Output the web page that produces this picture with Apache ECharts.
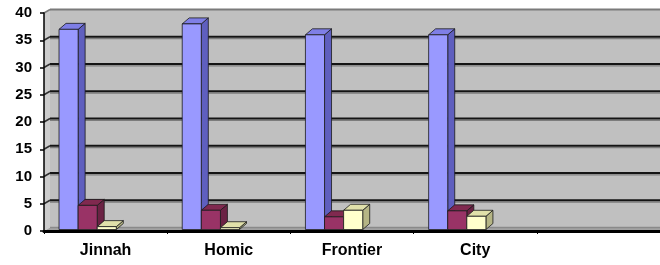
<!DOCTYPE html>
<html>
<head>
<meta charset="utf-8">
<script src="https://cdn.jsdelivr.net/npm/echarts@6/dist/echarts.min.js"></script>
<style>html,body{margin:0;padding:0;background:#fff}#c{width:660px;height:265px}</style>
</head>
<body>
<div id="c"></div>
<script>
var categories = ['Jinnah', 'Homic', 'Frontier', 'City', ''];
var seriesBlue = [37, 38, 36, 36];
var seriesMaroon = [4.7, 3.8, 2.6, 3.7];
var seriesYellow = [0.8, 0.6, 3.8, 2.7];
var yTicks = [0, 5, 10, 15, 20, 25, 30, 35, 40];

var palette = [
  {front: '#9999ff', top: '#7f7fe6', side: '#5f5fbf'},
  {front: '#993366', top: '#80294f', side: '#6b2244'},
  {front: '#ffffcc', top: '#e0e0aa', side: '#b5b585'}
];

var chart = echarts.init(document.getElementById('c'), null, {renderer: 'canvas'});

function wallRender(params, api) {
  var band = api.size([1, 0])[0];
  var c0 = api.coord([0, 0]);
  var L = c0[0] - band / 2;
  var R = L + band * categories.length;
  var y0 = c0[1];
  var yTop = api.coord([0, yTicks[yTicks.length - 1]])[1];
  var dx = 6, dy = -3.5;
  var kids = [];
  kids.push({type: 'rect', shape: {x: L + dx, y: yTop + dy, width: R - L - dx, height: y0 - yTop}, style: {fill: '#c0c0c0'}});
  kids.push({type: 'polygon', shape: {points: [[L, yTop], [L + dx, yTop + dy], [L + dx, y0 + dy], [L, y0]]}, style: {fill: '#cdcdcd'}});
  kids.push({type: 'polygon', shape: {points: [[L, y0], [L + dx, y0 + dy], [R, y0 + dy], [R, y0]]}, style: {fill: '#a2a2a2'}});
  kids.push({type: 'line', shape: {x1: L + dx, y1: yTop + dy, x2: R, y2: yTop + dy}, style: {stroke: '#7a7a7a', lineWidth: 2}});
  kids.push({type: 'line', shape: {x1: L, y1: yTop, x2: L + dx, y2: yTop + dy}, style: {stroke: '#7a7a7a', lineWidth: 1.5}});
  for (var i = 1; i < yTicks.length - 1; i++) {
    var y = api.coord([0, yTicks[i]])[1];
    kids.push({type: 'line', shape: {x1: L + dx, y1: y + dy + 1.8, x2: R, y2: y + dy + 1.8}, style: {stroke: '#7c7c7c', lineWidth: 1.2}});
    kids.push({type: 'line', shape: {x1: L + dx, y1: y + dy, x2: R, y2: y + dy}, style: {stroke: '#141414', lineWidth: 2}});
    kids.push({type: 'line', shape: {x1: L, y1: y, x2: L + dx, y2: y + dy}, style: {stroke: '#303030', lineWidth: 1.5}});
  }
  var yb = api.coord([0, 0])[1];
  kids.push({type: 'line', shape: {x1: L + dx, y1: yb + dy, x2: R, y2: yb + dy}, style: {stroke: '#8a8a8a', lineWidth: 1.5}});
  return {type: 'group', children: kids};
}

function barRender(si) {
  return function (params, api) {
    var cat = api.value(0), val = api.value(1);
    var top = api.coord([cat, val]);
    var base = api.coord([cat, 0]);
    var band = api.size([1, 0])[0];
    var w = band * 0.155;
    var l = top[0] - band * 0.378 + si * w;
    var r = l + w;
    var yt = top[1], yb = base[1] - 1.5;
    var dx = 7, dy = -6;
    var col = palette[si];
    var st = {stroke: '#1a1a1a', lineWidth: 0.8};
    return {type: 'group', children: [
      {type: 'polygon', shape: {points: [[r, yt], [r + dx, yt + dy], [r + dx, yb + dy], [r, yb]]}, style: Object.assign({fill: col.side}, st)},
      {type: 'polygon', shape: {points: [[l, yt], [l + dx, yt + dy], [r + dx, yt + dy], [r, yt]]}, style: Object.assign({fill: col.top}, st)},
      {type: 'rect', shape: {x: l, y: yt, width: w, height: yb - yt}, style: Object.assign({fill: col.front}, st)}
    ]};
  };
}

function toData(arr) { return arr.map(function (v, i) { return [i, v]; }); }

var option = {
  animation: false,
  grid: {left: 44, right: 0, top: 13, bottom: 34, containLabel: false},
  xAxis: {
    type: 'category', data: categories, z: 10,
    axisLine: {show: true, lineStyle: {color: '#000', width: 3}},
    axisTick: {show: true, length: 3, interval: 0, lineStyle: {color: '#000', width: 1}},
    axisLabel: {interval: 0, margin: 12, color: '#000', fontSize: 16, fontWeight: 'bold', fontFamily: 'Liberation Sans, Arial, sans-serif'},
    splitLine: {show: false}
  },
  yAxis: {
    type: 'value', min: 0, max: 40, interval: 5, z: 10,
    axisLine: {show: true, lineStyle: {color: '#000', width: 1.5}},
    axisTick: {show: true, length: 4, lineStyle: {color: '#000', width: 1.5}},
    axisLabel: {margin: 12, color: '#000', fontSize: 15, fontWeight: 'bold', fontFamily: 'Liberation Sans, Arial, sans-serif'},
    splitLine: {show: false}
  },
  series: [
    {type: 'custom', name: 'wall', z: 1, silent: true, renderItem: wallRender, data: [[0, 0]]},
    {type: 'custom', name: 'Series 1', z: 3, renderItem: barRender(0), data: toData(seriesBlue)},
    {type: 'custom', name: 'Series 2', z: 4, renderItem: barRender(1), data: toData(seriesMaroon)},
    {type: 'custom', name: 'Series 3', z: 5, renderItem: barRender(2), data: toData(seriesYellow)}
  ]
};
chart.setOption(option);
</script>
</body>
</html>
